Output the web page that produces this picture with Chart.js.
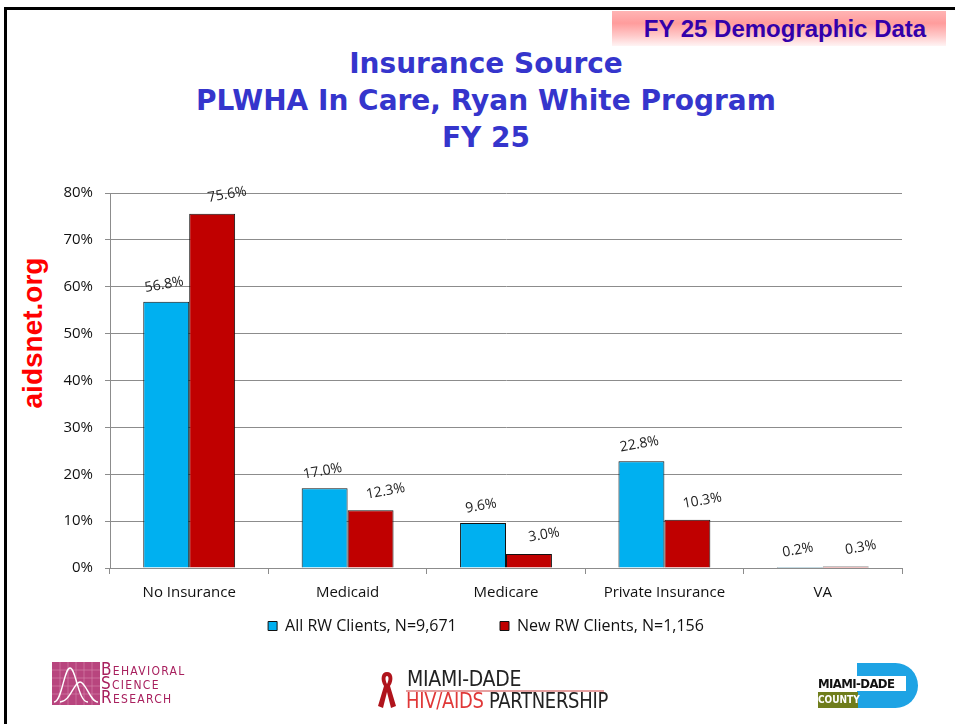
<!DOCTYPE html>
<html>
<head>
<meta charset="utf-8">
<script src="https://cdn.jsdelivr.net/npm/chart.js@4.4.1/dist/chart.umd.min.js"></script>
<style>
  html, body { margin: 0; padding: 0; background: #fff; }
  body { width: 955px; height: 724px; position: relative; overflow: hidden; font-family: "Liberation Sans", Arial, sans-serif; }
  #frame { position: absolute; left: 4px; top: 7px; width: 960px; height: 730px; border-top: 3px solid #000; border-left: 3px solid #000; }
  #banner { position: absolute; left: 612px; top: 11px; width: 334px; height: 35px; line-height: 35px;
    background: linear-gradient(to bottom, #ffb4b4 0%, #ff9c9c 35%, #ffc8c8 70%, #fff4f4 100%);
    color: #3300aa; font-weight: bold; font-size: 24px; text-align: center; padding-left: 12px; box-sizing: border-box; }
  #title { position: absolute; left: 0; top: 45px; width: 972px; text-align: center; color: #3535cc;
    font-family: "DejaVu Sans", sans-serif; font-weight: bold; font-size: 28px; line-height: 37px; }
  #side { position: absolute; left: 33px; top: 333px; transform: translate(-50%, -50%) rotate(-90deg);
    color: #ff0000; font-weight: bold; font-size: 28px; white-space: nowrap; }
  canvas { position: absolute; left: 0; top: 0; }
  .logo { position: absolute; }
  #bsr-box { left: 52px; top: 662px; width: 48px; height: 43px; background: #b8457e; }
  #bsr-text { left: 101px; top: 662px; color: #a8205e; font-size: 17px; line-height: 14px; font-variant: small-caps;
    letter-spacing: 1.3px; font-family: "Liberation Sans Narrow", "DejaVu Sans Condensed", sans-serif; }
  #ribbon { left: 377px; top: 670px; }
  #mdp-top { left: 407px; top: 667px; font-size: 21px; color: #222; font-family: "Liberation Sans Narrow", "DejaVu Sans Condensed", sans-serif;
    letter-spacing: -0.3px; }
  #mdp-line { left: 406px; top: 690px; width: 198px; height: 2px; background: #e7a0a0; }
  #mdp-bot { left: 406px; top: 689px; font-size: 21px; color: #222; font-family: "Liberation Sans Narrow", "DejaVu Sans Condensed", sans-serif;
    transform: scaleX(0.95); transform-origin: left top; letter-spacing: -0.3px; white-space: nowrap; }
  #mdp-bot .red { color: #e03838; }
  #mdc-d { left: 857px; top: 663px; width: 61px; height: 45px; background: #1ea3e4; border-radius: 0 23px 23px 0; }
  #mdc-name { left: 818px; top: 676px; width: 88px; height: 15px; background: #fff; color: #111; font-weight: bold; font-size: 13px;
    line-height: 15px; font-family: "Liberation Sans Narrow", "DejaVu Sans Condensed", sans-serif; letter-spacing: -0.6px; }
  #mdc-county { left: 818px; top: 692px; width: 40px; height: 16px; background: #6f7d1c; color: #fff; font-weight: bold; font-size: 10px;
    line-height: 16px; text-align: center; font-family: "Liberation Sans Narrow", "DejaVu Sans Condensed", sans-serif; }
</style>
</head>
<body>
<div id="frame"></div>
<div id="banner">FY 25 Demographic Data</div>
<div id="title">Insurance Source<br>PLWHA In Care, Ryan White Program<br>FY 25</div>
<div id="side">aidsnet.org</div>
<canvas id="chart" width="955" height="724"></canvas>

<div class="logo" id="bsr-box">
  <svg width="48" height="43">
    <g stroke="#d98ab0" stroke-width="0.6">
      <line x1="8" y1="0" x2="8" y2="43"/><line x1="16" y1="0" x2="16" y2="43"/><line x1="24" y1="0" x2="24" y2="43"/>
      <line x1="32" y1="0" x2="32" y2="43"/><line x1="40" y1="0" x2="40" y2="43"/>
      <line x1="0" y1="8" x2="48" y2="8"/><line x1="0" y1="16" x2="48" y2="16"/><line x1="0" y1="24" x2="48" y2="24"/>
      <line x1="0" y1="32" x2="48" y2="32"/>
    </g>
    <path d="M2 40 C10 40 12 6 18 6 C24 6 26 40 36 40" fill="none" stroke="#fff" stroke-width="1.4"/>
    <path d="M8 40 C18 40 22 20 28 20 C34 20 38 40 46 40" fill="none" stroke="#fff" stroke-width="1.4"/>
  </svg>
</div>
<div class="logo" id="bsr-text">Behavioral<br>Science<br>Research</div>

<svg class="logo" id="ribbon" width="20" height="40">
  <path d="M10 2 C4 2 3 10 7 16 L1 36 L6 38 L10 22 L14 38 L19 36 L13 16 C17 10 16 2 10 2 Z M10 6 C12 6 12 10 10 14 C8 10 8 6 10 6 Z" fill="#b0141c"/>
</svg>
<div class="logo" id="mdp-top">MIAMI-DADE</div>
<div class="logo" id="mdp-line"></div>
<div class="logo" id="mdp-bot"><span class="red">HIV/AIDS</span> PARTNERSHIP</div>

<div class="logo" id="mdc-d"></div>
<div class="logo" id="mdc-name">MIAMI-DADE</div>
<div class="logo" id="mdc-county">COUNTY</div>

<script>
const categories = ['No Insurance', 'Medicaid', 'Medicare', 'Private Insurance', 'VA'];
const allClients = [56.8, 17.0, 9.6, 22.8, 0.2];
const newClients = [75.6, 12.3, 3.0, 10.3, 0.3];
const seriesNames = ['All RW Clients, N=9,671', 'New RW Clients, N=1,156'];
const yMax = 80;
const yStep = 10;

const textFont = '"Open Sans", "Liberation Sans", sans-serif';

// value labels, tilted a little like the original
const barLabels = {
  id: 'barLabels',
  afterDatasetsDraw(chart) {
    const ctx = chart.ctx;
    const offsets = [[-2, -17], [15, -19]];
    chart.data.datasets.forEach((ds, i) => {
      const meta = chart.getDatasetMeta(i);
      meta.data.forEach((bar, j) => {
        ctx.save();
        ctx.translate(bar.x + offsets[i][0], bar.y + offsets[i][1]);
        ctx.rotate(-10 * Math.PI / 180);
        ctx.font = '14px ' + textFont;
        ctx.fillStyle = '#222';
        ctx.textAlign = 'center';
        ctx.textBaseline = 'middle';
        ctx.fillText(ds.data[j].toFixed(1) + '%', 0, 0);
        ctx.restore();
      });
    });
  }
};

// nudge the legend a bit to the right, like the slide
const legendShift = {
  id: 'legendShift',
  afterLayout(chart) {
    chart.legend.left += 10;
    chart.legend.right += 10;
  }
};

const data = {
  labels: categories,
  datasets: [{
    label: seriesNames[0],
    data: allClients,
    backgroundColor: '#00b0f0',
    borderColor: '#111',
    borderWidth: 1
  }, {
    label: seriesNames[1],
    data: newClients,
    backgroundColor: '#c00000',
    borderColor: '#111',
    borderWidth: 1
  }]
};

const config = {
  type: 'bar',
  data: data,
  plugins: [barLabels, legendShift],
  options: {
    responsive: false,
    animation: false,
    categoryPercentage: 0.58,
    barPercentage: 1.0,
    layout: { padding: { left: 50, right: 53, top: 193, bottom: 80 } },
    plugins: {
      legend: {
        position: 'bottom',
        labels: {
          boxWidth: 9,
          boxHeight: 9,
          padding: 10,
          color: '#111',
          font: { family: textFont, size: 16 },
          // wider gap between the two entries
          generateLabels(chart) {
            const items = Chart.defaults.plugins.legend.labels.generateLabels(chart);
            items[0].text = items[0].text + '        ';
            return items;
          }
        }
      },
      tooltip: { enabled: false },
      title: { display: false }
    },
    scales: {
      x: {
        afterFit(scale) { scale.height = 40; },
        grid: { drawOnChartArea: false, drawTicks: true, tickLength: 6, color: '#8c8c8c', offset: true },
        border: { display: true, color: '#8c8c8c' },
        ticks: { color: '#111', padding: 10, font: { family: textFont, size: 15 } }
      },
      y: {
        min: 0,
        max: yMax,
        afterFit(scale) { scale.width = 60; },
        grid: { color: '#8c8c8c', tickLength: 5 },
        border: { display: true, color: '#8c8c8c' },
        ticks: {
          stepSize: yStep,
          color: '#111',
          padding: 12,
          font: { family: textFont, size: 15 },
          callback: v => v + '%'
        }
      }
    }
  }
};

let myChart = new Chart(document.getElementById('chart'), config);
</script>
</body>
</html>
